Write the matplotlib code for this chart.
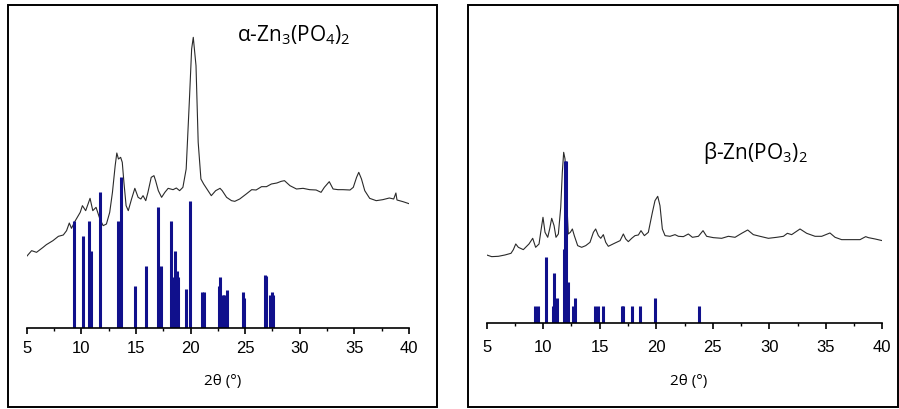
import matplotlib
matplotlib.use("Agg")
import matplotlib.pyplot as plt
from matplotlib.patches import Rectangle

plt.rcParams['font.family'] = ['Liberation Sans', 'DejaVu Sans']
plt.rcParams['mathtext.fontset'] = 'custom'
plt.rcParams['mathtext.rm'] = 'Open Sans'

# alpha-Zn3(PO4)2 : measured pattern (arbitrary intensity)
a_tt = [5.0, 5.45, 5.9, 6.5, 6.8, 7.4, 7.9, 8.35, 8.65, 8.9, 9.1, 9.4, 9.9, 10.1, 10.4,
        10.8, 11.05, 11.35, 11.5, 11.7, 12.0, 12.3, 12.6, 12.85, 13.1, 13.25, 13.4, 13.6,
        13.75, 13.9, 14.1, 14.3, 14.6, 14.9, 15.2, 15.45, 15.65, 15.9, 16.1, 16.4, 16.65,
        16.8, 17.05, 17.35, 17.65, 17.95, 18.4, 18.7, 19.0, 19.3, 19.6, 19.9, 20.1, 20.25,
        20.5, 20.7, 20.95, 21.2, 21.6, 21.9, 22.3, 22.7, 22.9, 23.3, 23.75, 24.05, 24.5,
        25.1, 25.6, 26.0, 26.5, 26.95, 27.4, 27.9, 28.3, 28.6, 29.1, 29.7, 30.3, 30.9,
        31.5, 31.95, 32.25, 32.7, 33.05, 33.5, 33.95, 34.6, 34.9, 35.2, 35.4, 35.65, 35.95,
        36.4, 37.0, 37.6, 38.2, 38.6, 38.8, 38.9, 39.45, 40.0]
a_int = [215, 232, 227, 242, 250, 262, 275, 279, 292, 315, 299, 319, 347, 367, 352,
         389, 352, 362, 347, 327, 307, 312, 347, 407, 487, 525, 507, 512,
         497, 437, 367, 352, 387, 419, 392, 387, 397, 382, 407, 452, 457,
         442, 412, 392, 407, 419, 415, 420, 412, 422, 477, 687, 837, 872,
         787, 557, 447, 432, 412, 397, 412, 419, 412, 392, 382, 380, 387,
         402, 415, 414, 424, 424, 432, 435, 440, 442, 427, 417, 419, 415,
         414, 407, 422, 439, 417, 415, 415, 414, 422, 452, 467, 447, 412,
         389, 382, 385, 390, 387, 405, 384, 379, 373]

# alpha-Zn3(PO4)2 : reference sticks
a_pos = [9.33, 10.12, 10.74, 10.89, 11.71, 13.36, 13.67, 14.92, 15.93, 17.05, 17.3,
         18.19, 18.37, 18.55, 18.74, 18.88, 19.59, 19.99, 21.05, 21.2, 22.61, 22.73,
         22.95, 23.1, 23.3, 24.76, 24.88, 26.8, 26.9, 27.26, 27.47, 27.55]
a_hgt = [320, 277, 320, 232, 407, 320, 452, 125, 187, 362, 187,
         320, 152, 232, 170, 152, 117, 382, 107, 107, 125, 152,
         99, 99, 115, 107, 90, 159, 157, 99, 107, 99]

# beta-Zn(PO3)2 : measured pattern
b_tt = [5.0, 5.44, 6.03, 6.62, 7.15, 7.36, 7.57, 7.8, 8.24, 8.74, 9.07, 9.33, 9.63, 9.8,
        9.98, 10.16, 10.4, 10.57, 10.75, 10.96, 11.13, 11.34, 11.55, 11.69, 11.81, 11.93,
        12.05, 12.22, 12.4, 12.58, 12.75, 13.05, 13.4, 13.76, 14.14, 14.44, 14.64, 14.88,
        15.09, 15.32, 15.53, 15.76, 16.3, 16.8, 17.09, 17.3, 17.53, 17.83, 18.12, 18.42,
        18.65, 18.95, 19.3, 19.66, 19.89, 20.13, 20.33, 20.54, 20.78, 21.22, 21.66, 21.96,
        22.4, 22.84, 23.2, 23.73, 24.14, 24.46, 25.05, 25.79, 26.38, 26.97, 27.56, 28.09,
        28.59, 29.18, 29.92, 30.66, 31.25, 31.6, 31.98, 32.72, 33.31, 34.05, 34.64, 35.37,
        35.82, 36.4, 37.29, 38.03, 38.53, 38.77, 39.36, 40.0]
b_int = [205, 200, 201, 205, 210, 221, 238, 228, 221, 238, 255, 228, 238, 278,
         318, 273, 258, 283, 315, 293, 258, 268, 348, 453, 513, 493,
         388, 268, 273, 283, 263, 233, 228, 233, 243, 273, 283, 263,
         255, 266, 243, 231, 240, 248, 268, 253, 245, 255, 263, 265,
         278, 263, 273, 333, 368, 381, 353, 283, 263, 261, 266, 261,
         260, 268, 258, 261, 278, 261, 257, 255, 261, 258, 270, 280,
         266, 261, 255, 258, 261, 270, 266, 283, 270, 261, 261, 271,
         258, 251, 251, 251, 260, 257, 253, 248]

# beta-Zn(PO3)2 : reference sticks
b_pos = [9.28, 9.51, 10.25, 10.84, 10.96, 11.19, 11.87, 11.96, 12.05, 12.17, 12.61,
         12.84, 14.56, 14.86, 15.32, 16.95, 17.1, 17.86, 18.57, 19.88, 23.77]
b_hgt = [53, 53, 198, 53, 150, 77, 223, 488, 488, 125, 53,
         77, 53, 53, 53, 53, 53, 53, 53, 77, 53]

xticks = [5, 10, 15, 20, 25, 30, 35, 40]
stick_color = '#10108c'

W, H = 899, 410
fig = plt.figure(figsize=(W / 100, H / 100), dpi=100)

# frames round each panel (figure pixels)
for x0, x1 in [(8, 437), (468, 898)]:
    fig.patches.append(Rectangle((x0 / W, 1 - 408 / H), (x1 - x0) / W, (408 - 6) / H,
                                 transform=fig.transFigure, fill=False,
                                 edgecolor='black', linewidth=1.4))


def panel(rect, tt, inten, pos, hgt, ytop, pad):
    ax = fig.add_axes(rect)
    ax.plot(tt, inten, color='#2a2a2a', linewidth=0.8)
    ax.vlines(pos, 0, hgt, color=stick_color, linewidth=2.2)
    ax.set_xlim(5, 40)
    ax.set_ylim(0, ytop)
    for s in ['top', 'left', 'right']:
        ax.spines[s].set_visible(False)
    ax.spines['bottom'].set_linewidth(1.2)
    ax.set_yticks([])
    ax.set_xticks(xticks)
    ax.set_xticks([7.5 + 5 * i for i in range(7)], minor=True)
    ax.tick_params(axis='x', which='major', direction='out', length=4, width=1.2,
                   labelsize=12, pad=pad)
    ax.tick_params(axis='x', which='minor', direction='out', length=2.5, width=1.0)
    ax.patch.set_alpha(0)
    return ax


axL = panel([26.7 / W, 1 - 329 / H, 382.3 / W, 323 / H], a_tt, a_int, a_pos, a_hgt, 969, 4.5)
axR = panel([486.7 / W, 1 - 324.3 / H, 395.6 / W, 318.3 / H], b_tt, b_int, b_pos, b_hgt, 955, 7.5)

for cx in [223, 689]:
    fig.text(cx / W, 1 - 385 / H, '2θ (°)', ha='center', va='baseline',
             fontsize=11, family=['Open Sans', 'DejaVu Sans'])

fig.text(294 / W, 1 - 41 / H, 'α-Zn$_3$(PO$_4$)$_2$', ha='center', va='baseline',
         fontsize=15, family=['Open Sans', 'DejaVu Sans'])
fig.text(755 / W, 1 - 159 / H, 'β-Zn(PO$_3$)$_2$', ha='center', va='baseline',
         fontsize=15, family=['Open Sans', 'DejaVu Sans'])

fig.savefig('out.png', dpi=100)
